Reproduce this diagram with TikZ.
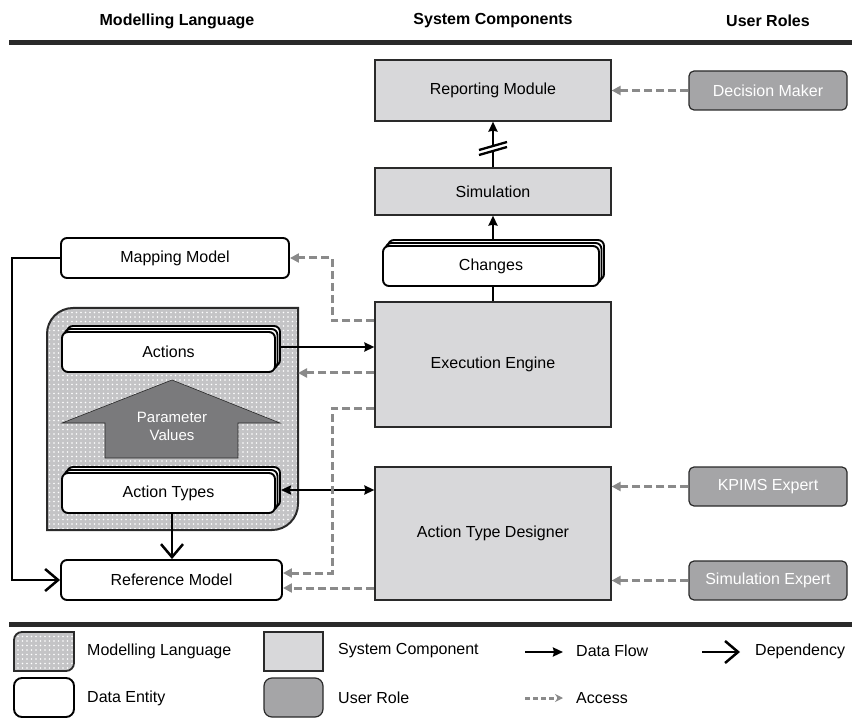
\documentclass[tikz,border=0pt]{standalone}
\usepackage{fontspec}
\setmainfont{Liberation Sans}
\usetikzlibrary{arrows.meta,patterns.meta}

\definecolor{sysfill}{HTML}{D8D8DA}
\definecolor{rolefill}{HTML}{A5A5A7}
\definecolor{mlfill}{HTML}{C4C4C6}
\definecolor{paramfill}{HTML}{7A7A7C}
\definecolor{accessgray}{HTML}{8A8A8A}
\definecolor{edge}{HTML}{2A2A2A}

\tikzset{
  sysbox/.style={draw=edge, line width=1.2pt, fill=sysfill, inner sep=0pt},
  rolebox/.style={draw=edge, line width=1.2pt, fill=rolefill, rounded corners=5pt,
    text=white, inner sep=0pt},
  entity/.style={draw=black, line width=1.9pt, fill=white, rounded corners=6pt, inner sep=0pt},
  mlang/.style={draw=edge, line width=2pt,
    preaction={fill=mlfill},
    preaction={pattern={Dots[distance=4.5pt,radius=0.8pt]}, pattern color=white}},
  flow/.style={draw=black, line width=2.5pt, -{Stealth[length=10pt,width=9pt,inset=1pt]}},
  twoway/.style={draw=black, line width=2.5pt,
    {Stealth[length=10pt,width=9pt,inset=1pt]}-{Stealth[length=10pt,width=9pt,inset=1pt]}},
  depend/.style={draw=black, line width=2.5pt,
    -{Straight Barb[length=13pt,width=22pt,line width=2.5pt]}},
  access/.style={draw=accessgray, line width=3pt, dash pattern=on 8pt off 4pt,
    -{Stealth[length=9pt,width=9pt,inset=0pt]}},
  header/.style={font=\fontsize{16}{18}\selectfont\bfseries},
  lbl/.style={anchor=west, inner sep=0pt},
}

\begin{document}
\begin{tikzpicture}[x=1pt, y=-1pt, font=\fontsize{16}{18}\selectfont]
\useasboundingbox (0,0) rectangle (855,722);

% column headings
\node[header] (hML) at (177,21) {Modelling Language};
\node[header] (hSC) at (493,21) {System Components};
\node[header] (hUR) at (768,21) {User Roles};
\draw[line width=5pt, edge] (9,43) -- (852,43);

% modelling language container
\path[mlang] (47,530) -- (47,334) arc[start angle=180,end angle=270,radius=26]
  -- (298,308) -- (298,504) arc[start angle=0,end angle=90,radius=26] -- cycle;
\coordinate (mlE) at (298,308);

% parameter values arrow
\path[fill=paramfill, draw=edge, line width=0.6pt]
  (172,380) -- (280,423) -- (238,423) -- (238,458) -- (105,458) -- (105,423) -- (62,423) -- cycle;
\node[text=white, align=center, font=\fontsize{15}{18}\selectfont] (pv) at (172,426) {Parameter\\Values};

% system components
\node[sysbox, minimum width=236pt, minimum height=61pt] (rep) at (493,90.5) {Reporting Module};
\node[sysbox, minimum width=236pt, minimum height=47pt] (sim) at (493,191.5) {Simulation};
\node[sysbox, minimum width=236pt, minimum height=125pt] (exe) at (493,364.5) {Execution Engine};
\node[sysbox, minimum width=236pt, minimum height=133pt] (atd) at (493,533.5) {Action Type Designer};

% user roles
\node[rolebox, minimum width=158pt, minimum height=39pt] (dm) at (768,90.5) {Decision Maker};
\node[rolebox, minimum width=158pt, minimum height=39pt] (kp) at (768,486.5) {KPIMS Expert};
\node[rolebox, minimum width=158pt, minimum height=39pt] (se) at (768,580.5) {Simulation Expert};

% data entities (stacked ones carry two layers behind them)
\node[entity, minimum width=228pt, minimum height=40pt] (mm) at (175,258) {Mapping Model};

\node[entity, minimum width=216pt, minimum height=40pt] (chgB) at (496,260) {};
\node[entity, minimum width=216pt, minimum height=40pt] (chgA) at (493.5,263) {};
\node[entity, minimum width=216pt, minimum height=40pt] (chg) at (491,266) {Changes};

\node[entity, minimum width=213pt, minimum height=40pt] (actB) at (173.5,346) {};
\node[entity, minimum width=213pt, minimum height=40pt] (actA) at (171,349) {};
\node[entity, minimum width=213pt, minimum height=40pt] (act) at (168.5,352) {Actions};

\node[entity, minimum width=213pt, minimum height=40pt] (atB) at (173.5,487) {};
\node[entity, minimum width=213pt, minimum height=40pt] (atA) at (171,490) {};
\node[entity, minimum width=213pt, minimum height=40pt] (at) at (168.5,493) {Action Types};

\node[entity, minimum width=221pt, minimum height=40pt] (ref) at (171.5,580) {Reference Model};

% data flow
\draw[flow] (chgB.north -| sim.south) -- (sim.south);
\draw[flow] (sim.north) -- (rep.south);
\fill[white] (479,150) -- (507,142) -- (507,147) -- (479,155) -- cycle;
\draw[line width=2.3pt] (479,150) -- (507,142);
\draw[line width=2.3pt] (479,155) -- (507,147);
\draw[line width=2.5pt] (chg.south -| exe.north) -- (exe.north);
\draw[flow] (actB.east |- 0,347) -- (exe.west |- 0,347);
\draw[twoway] (atB.east |- 0,490) -- (atd.west |- 0,490);

% dependencies
\draw[depend] (at.south -| 172,0) -- (ref.north -| 172,0);
\draw[depend] (mm.west) -- ++(-48,0) |- (ref.west);

% access
\draw[access] (dm.west) -- (rep.east |- dm.west);
\draw[access] (kp.west) -- (atd.east |- kp.west);
\draw[access] (se.west) -- (atd.east |- se.west);
\draw[access] (exe.west |- 0,321) -- ++(-42,0) |- (mm.east);
\draw[access] (exe.west |- 0,373) -- (mlE |- 0,373);
\draw[access] (exe.west |- 0,408) -- ++(-42,0) |- ([yshift=7pt]ref.east);
\draw[access] (atd.west |- 0,588) -- (ref.east |- 0,588);

% legend
\draw[line width=5pt, edge] (9,624) -- (852,624);
\path[mlang, line width=1.8pt] (14,671) -- (14,640) arc[start angle=180,end angle=270,radius=8]
  -- (74,632) -- (74,663) arc[start angle=0,end angle=90,radius=8] -- cycle;
\node[lbl] (lgML) at (87,651) {Modelling Language};
\node[entity, minimum width=60pt, minimum height=39pt, rounded corners=8pt] (lgDEbox) at (44,697.5) {};
\node[lbl] (lgDE) at (87,698) {Data Entity};
\node[sysbox, minimum width=59pt, minimum height=39pt] (lgSCbox) at (293.5,651.5) {};
\node[lbl] (lgSC) at (338,651) {System Component};
\node[rolebox, minimum width=59pt, minimum height=39pt, rounded corners=8pt] (lgURbox) at (293.5,697.5) {};
\node[lbl] (lgUR) at (338,698) {User Role};

\coordinate (dfA) at (525,652);
\coordinate (dfB) at (563,652);
\draw[flow] (dfA) -- (dfB);
\node[lbl] (lgDF) at (576,651) {Data Flow};
\coordinate (dpA) at (702,652);
\coordinate (dpB) at (740,652);
\draw[depend] (dpA) -- (dpB);
\node[lbl] (lgDP) at (755,651) {Dependency};
\coordinate (acA) at (525,698);
\coordinate (acB) at (563,698);
\draw[access, dash pattern=on 5pt off 3pt, -{Stealth[length=8pt,width=8pt]}] (acA) -- (acB);
\node[lbl] (lgAC) at (576,698) {Access};
\end{tikzpicture}
\end{document}
